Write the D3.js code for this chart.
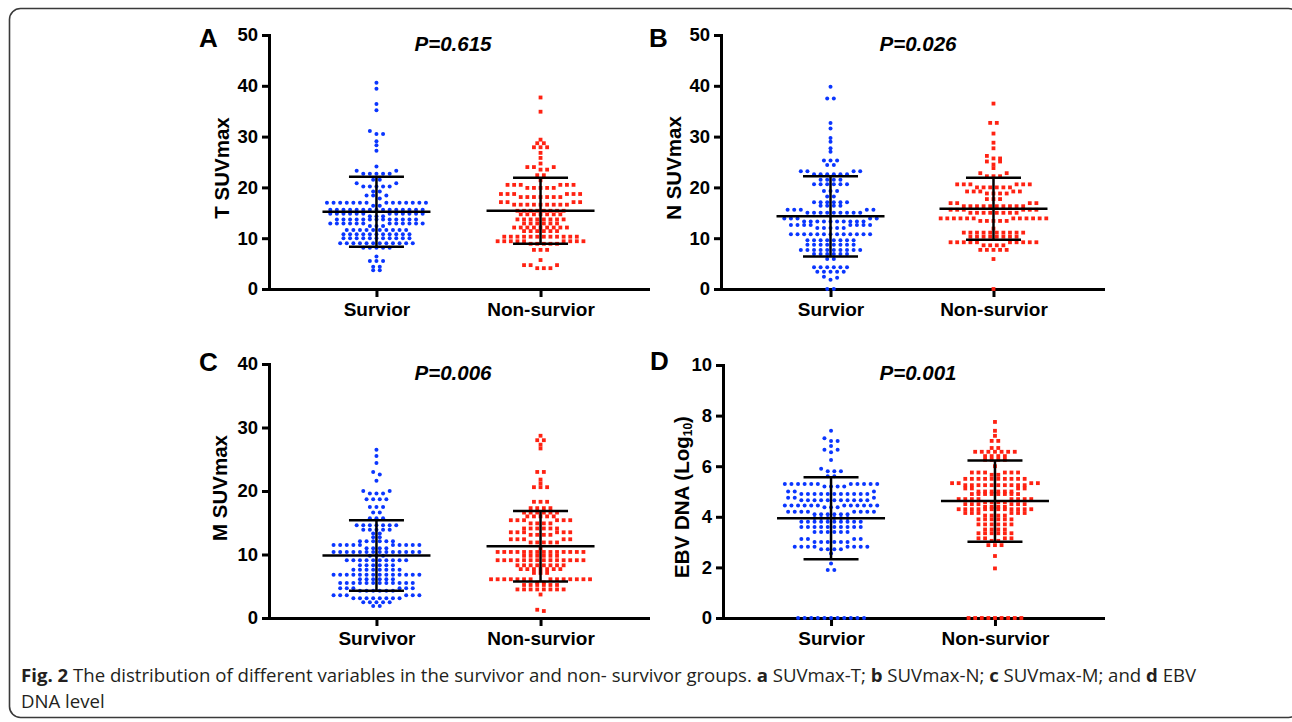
<!DOCTYPE html>
<html>
<head>
<meta charset="utf-8">
<script src="https://cdn.jsdelivr.net/npm/d3@7"></script>
<style>
  body { margin: 0; background: #fff; }
  svg { display: block; }
</style>
</head>
<body>
<svg id="chart" width="1292" height="722"></svg>
<script>
// Categories
const cats = ["Survior", "Non-survior"];
const catsC = ["Survivor", "Non-survior"];

// A: T SUVmax
const tSurv = [
  40.6, 39.4, 36.4, 35.2, 31.1, 30.5, 30.5, 29.1, 28.3, 27.2, 24.1,
  23.3, 23.3, 22.7, 22.7, 22.7, 22.7, 22.7,
  21.5, 21.5, 20.8, 20.8, 20.2, 20.2, 20.2, 20.2, 20.2,
  19.2, 19.2, 18.4, 18.4, 18.4, 17.8,
  17, 17, 17, 17, 17, 17, 17, 17, 17, 17, 17, 17, 17, 17, 16.4, 16.4,
  15.6, 15.6, 15.6, 15.6, 15.6, 15.6, 15.6, 15.6, 15.6, 15.6, 15.6, 15.6, 15.6, 15.6, 15.6,
  14.8, 14.8, 14.8, 14.8, 14.8, 14.8, 14.8, 14.8, 14.8, 14.8, 14.8, 14.8, 14.3, 14.3, 14.3,
  13.7, 13.7, 13.7, 13.7, 13.7, 13.7, 13.7, 13.7, 13.7, 13.7, 13.7, 13.7, 13.7,
  12.9, 12.9, 12.9, 12.9, 12.9, 12.9, 12.9, 12.9, 12.9, 12.9, 12.9, 12.9, 12.4, 12.4, 12.4,
  11.6, 11.6, 11.6, 11.6, 11.6, 11.6, 11.6, 11.6, 11.6, 11.6,
  10.8, 10.8, 10.8, 10.8, 10.8, 10.8, 10.8, 10.8, 10.8, 10.8, 10.8,
  10, 10, 10, 10, 10, 10, 10, 10, 10, 10, 10,
  9, 9, 9, 9, 9, 9, 9, 9, 9, 9, 9, 9,
  8.1, 8.1, 8.1, 8.1, 8.1,
  6.4, 5.5, 5.5, 5.5, 4.4, 4.4, 3.7, 3.7
];
const tNon = [
  37.7, 34.9, 29.4, 28.7, 28.7, 27.9, 27.9, 27.9, 26.8, 25.8, 24.7,
  24, 24, 24, 23.5, 23.5, 22.4, 22.4, 21.4,
  20.5, 20.5, 20.5, 20.5, 20.5, 20.5, 19.9, 19.9, 19.9, 19.9, 19.9,
  18.7, 18.7, 18.7, 18.7, 18.7, 18.7, 18.1, 18.1, 18.1, 18.1, 18.1, 18.1, 18.1,
  17.1, 17.1, 17.1, 17.1, 16.6, 16.6, 16.6, 16.6, 16.6, 16.6, 16.6, 16.6, 16.6,
  15.4, 15.4, 15.4, 15.4, 15.4, 15.4, 15.4, 15.4,
  14.7, 14.7, 14.7, 14.7, 14.7, 14.7, 14.7,
  13.7, 13.7, 13.7, 13.7, 13.7, 13.7, 13.7, 13.7,
  12.9, 12.9, 12.9, 12.9, 12.9, 12.9,
  12.1, 12.1, 12.1, 12.1, 12.1, 12.1, 12.1, 12.1, 12.1,
  11.4, 11.4, 11.4, 11.4, 11.4, 11.4,
  10.3, 10.3, 10.3, 10.3, 10.3, 10.3, 10.3, 10.3, 10.3, 10.3, 10.3, 10.3,
  9.4, 9.4, 9.4, 9.4, 9.4, 9.4, 9.4, 9.4, 9.4, 8.9, 8.9, 8.9, 8.9, 8.9,
  7.7, 7.7, 7.7, 5.7, 4.7, 4.7, 4.7, 4.1, 4.1, 4.1
];
const tMean = [15.2, 15.4];
const tSd = [6.9, 6.5];

// B: N SUVmax
const nSurv = [
  39.8, 37.5, 37.5, 32.7, 31.6, 29.7, 29, 27.7, 27,
  25.3, 25.3, 25.3, 24.4, 24.4,
  23.2, 23.2, 23.2, 23.2, 22.6, 22.6, 22.6, 22.6, 22.6, 22.6,
  21.5, 21.5, 21.5, 21.5, 20.6, 20.6, 20.6, 20.6, 20.6, 20.6,
  19.3, 19.3, 19.3, 18.2, 18.2,
  17.1, 17.1, 17.1, 17.1, 17.1, 17.1, 16.4, 16.4, 16.4, 16.4,
  15.6, 15.6, 15.6, 15.6, 15.6, 15, 15, 15, 15, 15, 15, 15, 15, 15,
  13.9, 13.9, 13.9, 13.9, 13.9, 13.3, 13.3, 13.3, 13.3, 13.3, 13.3, 13.3, 13.3, 13.3, 13.3,
  12.6, 12.6, 12.6, 12.6, 12.6, 12.6, 12.6, 12.6, 12, 12, 12, 12, 12,
  10.8, 10.8, 10.8, 10.8, 10.8, 10.8, 10.8, 10.8, 10.8, 10.8, 10.8, 10.8, 10.8,
  9.6, 9.6, 9.6, 9.6, 9.6, 9.6, 9.6, 9.6,
  8.7, 8.7, 8.7, 8.7, 8.7, 8.7, 8.7, 8.7,
  7.7, 7.7, 7.7, 7.7, 7.7, 7.7, 7.7, 7.7, 7.7, 7.7,
  6.9, 6.9, 6.9, 6.9, 6.9, 6.9, 5.9, 5.9,
  4.3, 4.3, 4.3, 4.3, 4.3, 4.3, 3.4, 3.4, 3.4, 3.4, 3.4,
  2.4, 2.2, 1.8, 0, 0
];
const nNon = [
  36.5, 32.7, 32.7, 30.6, 28.8, 27.7, 26.2, 25.7, 25.7, 25.1, 25.1, 24.5, 23.8,
  22.8, 22.8, 22.2, 22.2, 22.2,
  20.6, 20.6, 20.6, 20.6, 20.6, 20.6, 20, 20, 20, 20, 20, 20,
  19.2, 19.2, 19.2, 19.2, 19.2, 18.8, 18.8, 18.8, 18.8,
  17.7, 17.7, 17.7,
  16.9, 16.9, 16.9, 16.9, 16.3, 16.3, 16.3, 16.3, 16.3, 16.3, 16.3, 16.3, 16.3, 16.3,
  15.6, 15.6, 15.6, 15.6, 15.6, 15.6, 15, 15, 15, 15, 15, 15, 15, 15,
  13.9, 13.9, 13.9, 13.9, 13.9, 13.9, 13.9, 13.9, 13.9, 13.9, 13.9, 13.9, 13.4, 13.4, 13.4, 13.4, 13.4,
  11.9, 11.1, 11.1, 11.1, 11.1, 11.1, 11.1, 11.1, 11.1, 11.1, 11.1,
  10.3, 10.3, 10.3, 10.3, 10.3, 10.3, 10.3, 10.3,
  9.2, 9.2, 9.2, 9.2, 9.2, 9.2, 9.2, 9.2, 9.2, 9.2, 8.6, 8.6, 8.6, 8.6,
  7.7, 7.7, 7.7, 7.7, 7.7, 5.9, 0
];
const nMean = [14.3, 15.8];
const nSd = [7.9, 6.1];

// C: M SUVmax
const mSurv = [
  26.5, 25.5, 24.4, 23, 22.6, 21.6,
  20, 20, 19.6, 19.6, 19.6,
  18.7, 18.7, 18.7, 18.7, 17.5, 17.5, 17.5, 16.6, 16.6, 15.7, 15.7, 15.7,
  14.6, 14.6, 14.6, 14.6, 14.6, 14.6, 14.6, 13.9, 13.9, 13.9, 13.9, 13.9,
  13.3, 13.3, 12.7, 12.7, 12.1, 12.1, 12.1, 12.1, 12.1, 12.1,
  11.5, 11.5, 11.5, 11.5, 11.5, 11.5, 11.5, 11.5, 11.5, 11.5, 11, 11, 11, 11,
  10.4, 10.4, 10.4, 10.4, 10.4, 10.4, 10.4, 10.4, 10.4, 10.4, 10.4, 10.4, 10.4, 10.4,
  9.8, 9.8, 9.8,
  9.1, 9.1, 9.1, 9.1, 9.1, 9.1, 9.1, 9.1, 9.1, 9.1,
  8.3, 8.3, 8.3, 8.3, 8.3, 8.3,
  7.6, 7.6, 7.6, 7.6, 7.6, 7.6, 7.6, 7.6,
  6.8, 6.8, 6.8, 6.8, 6.8, 6.8, 6.8, 6.8, 6.8, 6.8, 6.8, 6.8, 6.8, 6.8,
  6.1, 6.1, 6.1, 6.1, 6.1, 6.1,
  5.5, 5.5, 5.5, 5.5, 5.5, 5.5, 5.5, 5.5, 5.5, 5.5, 5.5, 5.5,
  4.7, 4.7, 4.7, 4.7, 4.7, 4.7, 4.3, 4.3, 4.3, 4.3, 4.3, 4.3,
  3.6, 3.6, 3.6, 3.6, 3.6, 3.6, 3.1, 3.1, 3.1, 3.1, 3.1, 3.1, 3.1, 3.1,
  2.5, 2.5, 2.5, 2.5, 2.5, 1.9, 1.9
];
const mNon = [
  28.7, 28, 28, 27.3, 26.7, 23, 23, 21.8, 21.2, 20.6, 20.6, 20.6,
  18.3, 18.3, 18.3, 17.3, 17.3, 17.3, 17.3,
  16.6, 16.6, 16.6, 16.6, 16.6, 16.6, 16, 16, 16, 16, 16,
  15.4, 15.4, 15.4, 15.4, 15.4, 15.4, 14.9, 14.9, 14.9, 14.9,
  14.1, 14.1, 14.1, 14.1, 14.1, 14.1, 13.5, 13.5, 13.5, 13.5, 13.5, 13.5, 13.1, 13.1, 13.1, 13.1,
  12.4, 12.4, 12.4, 12.4, 12.4, 11.9, 11.9, 11.9, 11.9, 11.9, 11,
  10.4, 10.4, 10.4, 10.4, 10.4, 10.4, 10.4, 10.4, 10.4, 10.4, 10.4, 10.4, 10.4, 10.4,
  9.8, 9.8, 9.8, 9.8, 9.8, 9.8,
  9.1, 9.1, 9.1, 9.1, 9.1, 9.1, 9.1, 9.1, 9.1, 9.1, 9.1, 9.1, 9.1, 9.1,
  8.3, 8.3, 8.3, 8.3, 8.3, 8.3, 8.3, 8.3,
  7.7, 7.7, 7.7, 7.7, 7.7, 7.7, 7.7, 7.1, 7.1, 7.1,
  6.1, 6.1, 6.1, 6.1, 6.1, 6.1, 6.1, 6.1, 6.1, 6.1, 6.1, 6.1, 6.1, 6.1, 5.6, 5.6,
  5.2, 5.2, 5.2, 5.2, 5.2, 5.2,
  4.5, 4.5, 4.5, 4.5, 4.5, 4.5, 4.5, 4.5,
  3.7, 1.3, 1.1
];
const mMean = [9.85, 11.3];
const mSd = [5.55, 5.55];

// D: EBV DNA (Log10)
const ebvSurv = [
  7.4, 7.1, 7, 7, 6.8, 6.65, 6.65, 6.55, 6.25, 5.9, 5.8, 5.8, 5.8, 5.6, 5.6,
  5.3, 5.3, 5.3, 5.3, 5.3, 5.3, 5.3, 5.3, 5.3, 5.3, 5.3, 5.2, 5.2, 5.2, 5.2,
  5, 5, 5, 4.9, 4.9, 4.9, 4.9, 4.9, 4.9, 4.9, 4.9, 4.9, 4.9, 4.9,
  4.75, 4.75, 4.75, 4.65, 4.65, 4.65, 4.65, 4.65, 4.65, 4.65, 4.65, 4.65, 4.65, 4.65,
  4.45, 4.45, 4.45, 4.45, 4.45, 4.45, 4.45, 4.45, 4.45, 4.45, 4.45, 4.45, 4.38, 4.38, 4.38,
  4.2, 4.2, 4.2, 4.2, 4.2, 4.2, 4.2, 4.2, 4.1, 4.1, 4.1, 4.1, 4.1, 4.1,
  3.95, 3.95, 3.95, 3.95, 3.95, 3.95,
  3.8, 3.8, 3.8, 3.8, 3.8, 3.8, 3.8, 3.8, 3.8, 3.8,
  3.6, 3.6, 3.6, 3.6, 3.6, 3.6, 3.6, 3.6, 3.6, 3.6,
  3.4, 3.4, 3.4, 3.4, 3.4, 3.4,
  3.12, 3.12, 3.12, 3.12, 3, 3, 3, 3, 3, 3,
  2.82, 2.82, 2.82, 2.82, 2.82, 2.82, 2.82, 2.82, 2.72, 2.72, 2.72, 2.72,
  2.55, 2.15, 1.9, 1.9,
  0, 0, 0, 0, 0, 0, 0, 0, 0, 0, 0
];
const ebvNon = [
  7.75, 7.4, 7.2, 7, 7, 6.72, 6.72,
  6.57, 6.57, 6.57, 6.57, 6.57, 6.57, 6.57, 6.4, 6.4, 6.4, 6.4, 6.25, 6.25, 6.25, 6.25, 6,
  5.75, 5.75, 5.75, 5.75, 5.75, 5.75, 5.66, 5.66,
  5.5, 5.5, 5.5, 5.5, 5.5, 5.5, 5.5, 5.5, 5.5, 5.5,
  5.33, 5.33, 5.33, 5.33, 5.25, 5.25, 5.25, 5.25, 5.25, 5.25, 5.25, 5.25, 5.25, 5.25,
  5.12, 5.12, 5.12, 5.12, 5, 5, 5, 5, 5, 5,
  4.9, 4.9, 4.9, 4.9, 4.9, 4.9, 4.9, 4.9,
  4.7, 4.7, 4.7, 4.7, 4.7, 4.7, 4.7, 4.7, 4.58, 4.58, 4.58, 4.58,
  4.5, 4.5, 4.5, 4.5, 4.5, 4.5, 4.4, 4.4, 4.4, 4.4,
  4.3, 4.3, 4.3, 4.3, 4.3, 4.3, 4.3, 4.3, 4.3, 4.3, 4.3, 4.3,
  4.15, 4.15, 4.15, 4.15, 4.15, 4.15, 4.05, 4.05, 4.05, 4.05,
  3.9, 3.9, 3.9, 3.9, 3.9, 3.9, 3.7, 3.7, 3.7, 3.7, 3.7, 3.7,
  3.5, 3.5, 3.5, 3.5, 3.35, 3.35, 3.35, 3.35, 3.35, 3.35,
  3.15, 3.15, 3.15, 3.15, 3.05, 3.05, 2.88, 2.88, 2.88, 2.45, 1.96,
  0, 0, 0, 0, 0, 0, 0, 0, 0
];
const ebvMean = [3.94, 4.62];
const ebvSd = [1.62, 1.61];

const FONT = "'Liberation Sans', Arial, Helvetica, sans-serif";
const CAPFONT = "'Open Sans', 'Noto Sans', sans-serif";
const BLUE = "#0a36ff";
const RED = "#ff2212";

const svg = d3.select("#chart");
svg.append("rect").attr("width", 1292).attr("height", 722).attr("fill", "#fff");

// Figure frame
svg.append("rect")
    .attr("x", 9.5).attr("y", 8.5)
    .attr("width", 1290).attr("height", 709)
    .attr("rx", 11)
    .attr("fill", "none")
    .attr("stroke", "#3a3a3a")
    .attr("stroke-width", 1.6);

const panels = [
    { letter: "A", p: "P=0.615", label: ["T SUVmax"], cats: cats, series: [tSurv, tNon], mean: tMean, sd: tSd,
      max: 50, step: 10, left: 269, right: 648, top: 35, bottom: 289, pad: 0.655,
      lx: 199, ly: 47, px: 453, py: 51, tx: 229, ty: 168 },
    { letter: "B", p: "P=0.026", label: ["N SUVmax"], cats: cats, series: [nSurv, nNon], mean: nMean, sd: nSd,
      max: 50, step: 10, left: 721, right: 1103, top: 35, bottom: 289, pad: 0.672,
      lx: 649, ly: 47, px: 918, py: 51, tx: 681, ty: 168 },
    { letter: "C", p: "P=0.006", label: ["M SUVmax"], cats: catsC, series: [mSurv, mNon], mean: mMean, sd: mSd,
      max: 40, step: 10, left: 269, right: 648, top: 364, bottom: 618, pad: 0.655,
      lx: 199, ly: 371, px: 453, py: 380, tx: 227, ty: 488 },
    { letter: "D", p: "P=0.001", label: ["EBV DNA (Log", "10", ")"], cats: cats, series: [ebvSurv, ebvNon], mean: ebvMean, sd: ebvSd,
      max: 10, step: 2, left: 723, right: 1103, top: 365, bottom: 618, pad: 0.659,
      lx: 650, ly: 370, px: 918, py: 380, tx: 689, ty: 497 }
];

// Prism-like column scatter: values falling in the same pixel bin share a row
function swarm(values, y, cx, spacing, binPx) {
    const sorted = values.slice().sort((a, b) => b - a);
    const bins = [];
    let cur = null;
    sorted.forEach(v => {
        if (cur && y(v) - y(cur[0]) < binPx) cur.push(v);
        else { cur = [v]; bins.push(cur); }
    });
    const pts = [];
    bins.forEach(bin => {
        const n = bin.length;
        const slots = d3.range(n).map(i => (i - (n - 1) / 2) * spacing)
            .sort((a, b) => Math.abs(b) - Math.abs(a) || a - b);
        bin.forEach((v, i) => pts.push({ v: v, x: cx + slots[i] }));
    });
    return pts;
}

function drawPanel(cfg) {
    const y = d3.scaleLinear().domain([0, cfg.max]).range([cfg.bottom, cfg.top]);
    const x = d3.scalePoint().domain(cfg.cats).range([cfg.left, cfg.right]).padding(cfg.pad);

    const yAxis = svg.append("g")
        .attr("transform", `translate(${cfg.left},0)`)
        .call(d3.axisLeft(y)
            .tickValues(d3.range(0, cfg.max + cfg.step / 2, cfg.step))
            .tickSize(7).tickSizeOuter(0).tickPadding(4));
    yAxis.attr("font-size", 18.5);

    const xAxis = svg.append("g")
        .attr("transform", `translate(0,${cfg.bottom})`)
        .call(d3.axisBottom(x).tickSize(8).tickSizeOuter(0).tickPadding(6));
    xAxis.attr("font-size", 19);

    [yAxis, xAxis].forEach(g => {
        g.attr("font-family", FONT).attr("font-weight", "bold");
        g.select(".domain").attr("stroke", "#000").attr("stroke-width", 3).attr("stroke-linecap", "square");
        g.selectAll(".tick line").attr("stroke", "#000").attr("stroke-width", 3);
        g.selectAll(".tick text").attr("fill", "#000");
    });

    // Points
    cfg.series.forEach((vals, i) => {
        const cx = x(cfg.cats[i]);
        const pts = swarm(vals, y, cx, 6.6, 3.4);
        if (i === 0) {
            svg.append("g").selectAll("circle")
                .data(pts).join("circle")
                .attr("cx", d => d.x)
                .attr("cy", d => y(d.v))
                .attr("r", 2.0)
                .attr("fill", BLUE);
        } else {
            svg.append("g").selectAll("rect")
                .data(pts).join("rect")
                .attr("x", d => d.x - 1.9)
                .attr("y", d => y(d.v) - 1.9)
                .attr("width", 3.8)
                .attr("height", 3.8)
                .attr("fill", RED);
        }
    });

    // Mean with SD
    cfg.mean.forEach((m, i) => {
        const cx = x(cfg.cats[i]);
        const s = cfg.sd[i];
        const g = svg.append("g").attr("stroke", "#000").attr("stroke-width", 2.5);
        g.append("line").attr("x1", cx - 54).attr("x2", cx + 54).attr("y1", y(m)).attr("y2", y(m));
        g.append("line").attr("x1", cx).attr("x2", cx).attr("y1", y(m - s)).attr("y2", y(m + s));
        [m - s, m + s].forEach(v => {
            g.append("line").attr("x1", cx - 27.5).attr("x2", cx + 27.5).attr("y1", y(v)).attr("y2", y(v));
        });
    });

    // Panel letter
    svg.append("text")
        .attr("x", cfg.lx).attr("y", cfg.ly)
        .attr("font-family", FONT).attr("font-weight", "bold").attr("font-size", 26)
        .text(cfg.letter);

    // P value
    svg.append("text")
        .attr("x", cfg.px).attr("y", cfg.py)
        .attr("text-anchor", "middle")
        .attr("font-family", FONT).attr("font-weight", "bold").attr("font-style", "italic")
        .attr("font-size", 20.5)
        .text(cfg.p);

    // Y label
    const lab = svg.append("text")
        .attr("transform", `translate(${cfg.tx},${cfg.ty}) rotate(-90)`)
        .attr("text-anchor", "middle")
        .attr("font-family", FONT).attr("font-weight", "bold").attr("font-size", 20.5);
    lab.append("tspan").text(cfg.label[0]);
    if (cfg.label.length > 1) {
        lab.append("tspan").attr("font-size", 12).attr("dy", 3).text(cfg.label[1]);
        lab.append("tspan").attr("dy", -3).text(cfg.label[2]);
    }
}

panels.forEach(drawPanel);

// Caption: size the font so the first line spans the same width as the reference
const capParts = [
    ["Fig. 2", true],
    [" The distribution of different variables in the survivor and non- survivor groups. ", false],
    ["a", true], [" SUVmax-T; ", false],
    ["b", true], [" SUVmax-N; ", false],
    ["c", true], [" SUVmax-M; and ", false],
    ["d", true], [" EBV", false]
];
const cap = svg.append("text")
    .attr("x", 21).attr("y", 682)
    .attr("font-family", CAPFONT)
    .attr("font-size", 17)
    .attr("fill", "#231f20")
    .style("white-space", "pre");
capParts.forEach(([t, b]) => {
    cap.append("tspan").attr("font-weight", b ? "bold" : "normal").text(t);
});
const capSize = 17 * 1176 / cap.node().getComputedTextLength();
cap.attr("font-size", capSize);

svg.append("text")
    .attr("x", 21).attr("y", 708)
    .attr("font-family", CAPFONT)
    .attr("font-size", capSize)
    .attr("fill", "#231f20")
    .text("DNA level");
</script>
</body>
</html>
